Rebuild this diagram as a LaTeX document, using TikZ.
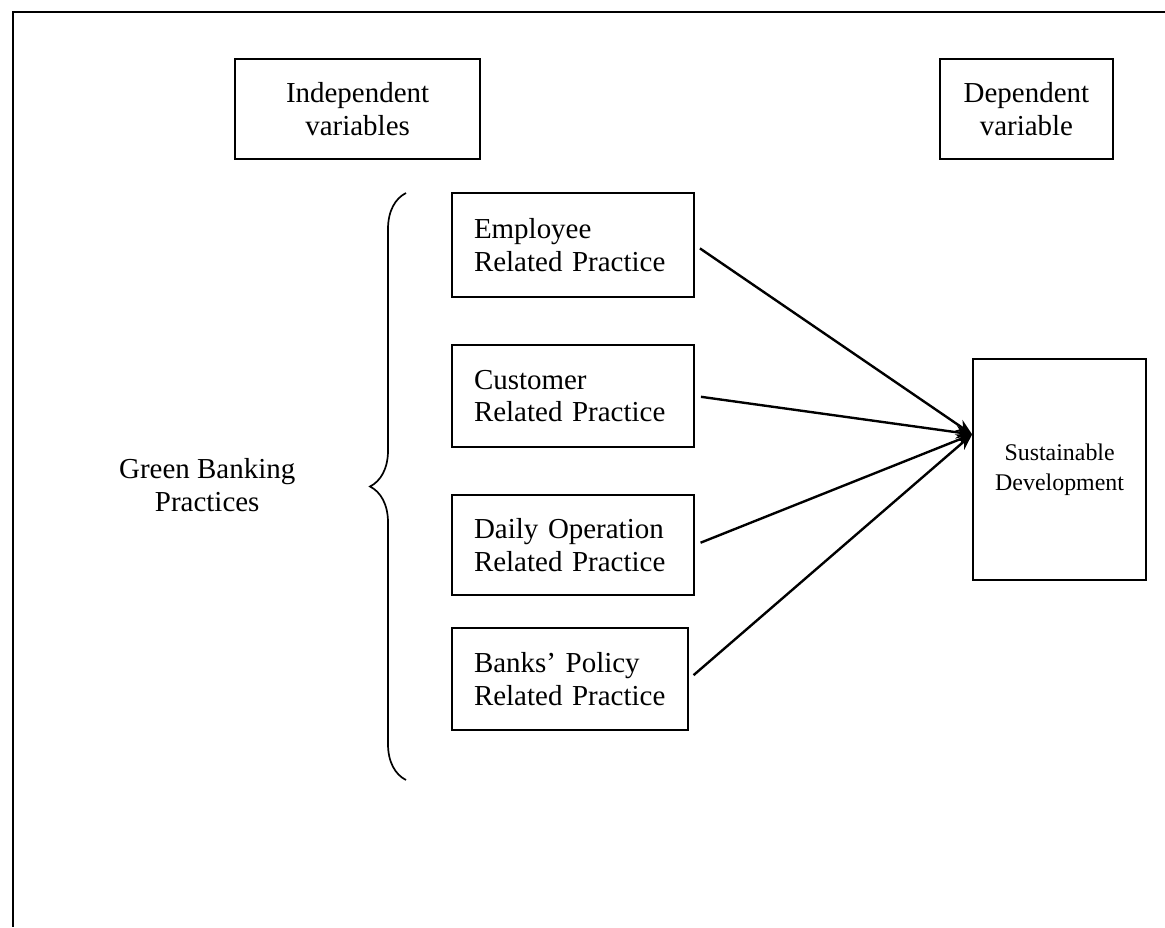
\documentclass[tikz,border=0pt]{standalone}
\usepackage{fontspec}
\setmainfont{Liberation Serif}
\usepackage{tikz}
\usetikzlibrary{arrows.meta,positioning,calc,decorations.pathreplacing}

\begin{document}
\begin{tikzpicture}[
  hbox/.style={draw, line width=1.4pt, align=center, minimum height=2.5cm,
    font=\fontsize{20.6}{23}\selectfont},
  pbox/.style={draw, line width=1.4pt, minimum width=6.05cm, minimum height=2.55cm,
    text width=4.95cm, inner xsep=0.55cm, align=left,
    font=\fontsize{20.6}{23}\selectfont},
  link/.style={-{Stealth[length=4mm, width=3.2mm]}, line width=1.7pt, shorten <=0.15cm},
]
  \useasboundingbox (0,0) rectangle (29.125,-23.175);
  \draw[line width=2pt] (29.125,-0.3) -- (0.325,-0.3) -- (0.325,-23.175);

  % column headings
  \node[hbox, minimum width=6.125cm] (indep) at (8.94,-2.725) {Independent\\variables};
  \node[hbox, minimum width=4.325cm] (dep) at (25.66,-2.725) {Dependent\\variable};

  % practices
  \node[pbox, minimum height=2.6cm] (emp) at (14.325,-6.125) {Employee\\Related Practice};
  \node[pbox, below=1.15cm of emp] (cust) {Customer\\Related Practice};
  \node[pbox, below=1.15cm of cust, minimum height=2.5cm] (daily) {Daily Operation\\Related Practice};
  \node[pbox, minimum width=5.9cm, text width=4.8cm, anchor=north west]
    (policy) at ($(daily.south west)+(0,-0.78)$) {Banks' Policy\\Related Practice};

  % outcome
  \node[draw, line width=1.4pt, minimum width=4.325cm, minimum height=5.525cm,
    align=center, font=\fontsize{17}{21}\selectfont] (sust) at (26.49,-11.74)
    {Sustainable\\Development};
  \coordinate (hub) at ($(sust.west)+(0,0.88)$);

  % grouping brace
  \coordinate (btop) at (10.15,-4.825);
  \coordinate (bbot) at (10.15,-19.5);
  \draw[line width=1.2pt, decorate, decoration={brace, amplitude=0.9cm}] (bbot) -- (btop);
  \node[align=center, font=\fontsize{20.6}{23}\selectfont] (green) at (5.18,-12.125)
    {Green Banking\\Practices};

  \draw[link] (emp.east) -- (hub);
  \draw[link] (cust.east) -- (hub);
  \draw[link] (daily.east) -- (hub);
  \draw[link] (policy.east) -- (hub);
\end{tikzpicture}
\end{document}
